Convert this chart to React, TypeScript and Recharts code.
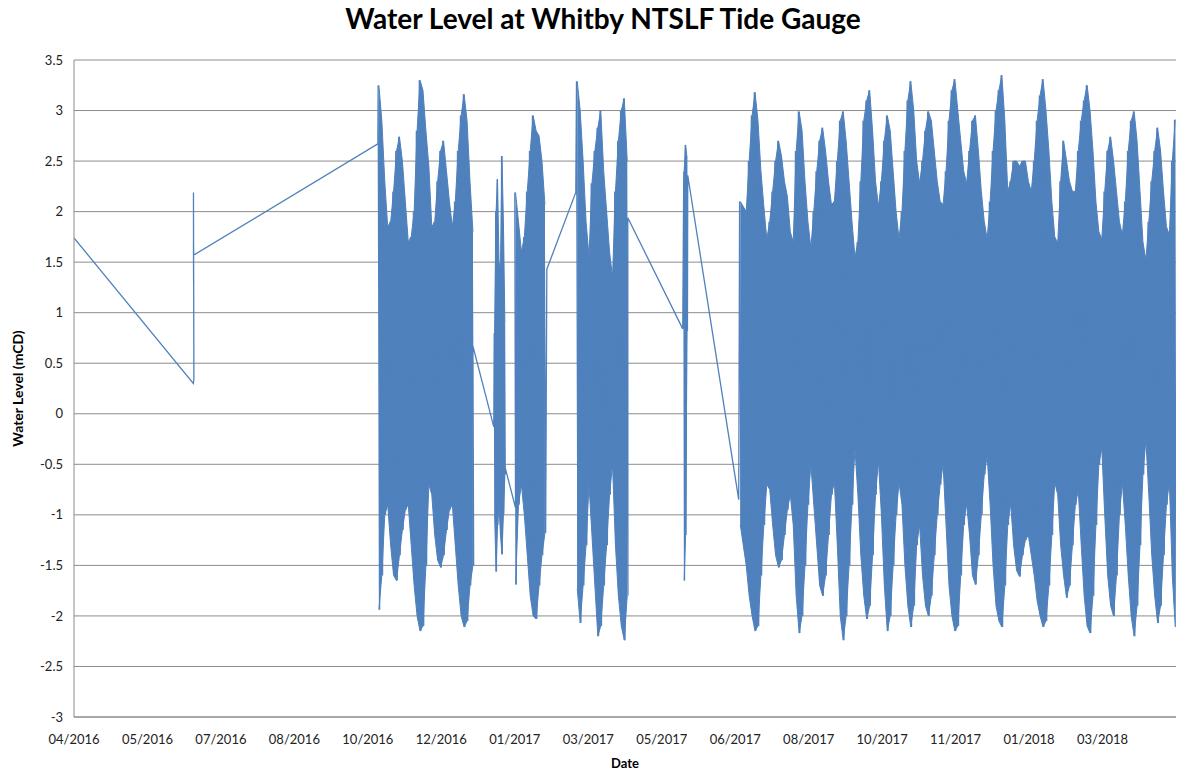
import React from "react";
import { ComposedChart, Line, Area, XAxis, YAxis, CartesianGrid, Label } from "recharts";

// x positions are days counted from the first reading (early April 2016)
const TICK_DAYS = [0, 50, 100, 150, 200, 250, 300, 350, 400, 450, 500, 550, 600, 650, 700];
const TICK_LABELS = [
  "04/2016", "05/2016", "07/2016", "08/2016", "10/2016", "12/2016", "01/2017", "03/2017",
  "05/2017", "06/2017", "08/2017", "10/2017", "11/2017", "01/2018", "03/2018",
];
const LEVEL_TICKS = [-3, -2.5, -2, -1.5, -1, -0.5, 0, 0.5, 1, 1.5, 2, 2.5, 3, 3.5];

// straight joins between the gaps in the record: [day, level]
const LEAD_IN: [number, number][] = [
  [0, 1.74], [81.2, 0.3], [81.6, 0.34], [81.3, 2.19], [81.4, 1.3], [81.3, 1.7], [81.5, 1.57], [206.8, 2.67],
];
const JOIN_A: [number, number][] = [[271.5, 0.67], [285.7, -0.13]];
const JOIN_B: [number, number][] = [[293.4, -0.53], [300.5, -0.93]];
const JOIN_C: [number, number][] = [[321.8, 1.43], [341.5, 2.19]];
const JOIN_D: [number, number][] = [[376.9, 1.94], [414.3, 0.84]];
const JOIN_E: [number, number][] = [[417.7, 2.36], [452.4, -0.85]];

// tidal envelopes: high water / low water per sample
const OCT16_START = 207;
const OCT16_HIGH = [
  3.25, 2.9, 2.3, 1.85, 1.9, 2.2, 2.6, 2.74, 2.5, 2.1,
  1.7, 1.75, 2.0, 2.8, 3.3, 3.2, 2.8, 2.45, 1.85, 1.9,
  2.3, 2.6, 2.7, 2.4, 2.1, 1.85, 2.1, 2.6, 2.95, 3.16,
  2.9, 2.3, 1.8,
];
const OCT16_LOW = [
  -1.94, -1.6, -1.0, -0.9, -1.3, -1.6, -1.65, -1.4, -1.15, -0.95,
  -0.9, -1.3, -1.7, -2.0, -2.15, -2.1, -1.5, -0.7, -0.8, -1.2,
  -1.45, -1.52, -1.4, -1.15, -0.95, -0.9, -1.3, -1.7, -2.0, -2.11,
  -2.05, -1.7, -1.5,
];

const JAN17A_START = 286;
const JAN17A_HIGH = [0.8, 2.0, 2.32, 1.5, 1.4, 2.55, 1.9, 0.9];
const JAN17A_LOW = [-1.0, -1.56, -1.1, -0.9, -1.2, -1.39, -1.0, -0.6];

const JAN17B_START = 300;
const JAN17B_HIGH = [2.19, 1.9, 1.6, 1.75, 2.2, 2.6, 2.95, 2.8, 2.75, 2.5, 2.07];
const JAN17B_LOW = [-1.69, -0.9, -0.7, -1.0, -1.4, -1.8, -2.0, -2.03, -1.7, -1.4, -1.18];

const MAR17_START = 342;
const MAR17_HIGH = [3.29, 3.0, 2.5, 1.9, 1.56, 2.28, 2.6, 2.83, 3.0, 2.4, 2.0, 1.6, 1.35, 2.2, 2.7, 3.0, 3.12, 2.5];
const MAR17_LOW = [-1.73, -2.07, -1.7, -1.3, -0.7, -1.2, -1.7, -2.2, -2.1, -1.7, -1.3, -0.8, -0.5, -1.3, -1.8, -2.1, -2.24, -1.8];

const MAY17_START = 415;
const MAY17_HIGH = [2.4, 2.66, 2.53];
const MAY17_LOW = [-1.65, -1.2, 0.82];

const JUN17_START = 453;
const JUN17_HIGH = [
  2.1, 2.05, 2.0, 2.5, 2.95, 3.18, 2.9, 2.4, 2.05, 1.73,
  1.9, 2.2, 2.5, 2.7, 2.55, 2.3, 2.15, 1.8, 1.7, 2.6,
  2.99, 2.8, 2.3, 1.9, 1.64, 2.0, 2.4, 2.7, 2.83, 2.6,
  2.3, 2.07, 2.1, 2.5, 2.9, 2.99, 2.7, 2.3, 1.9, 1.55,
  1.7, 2.3, 2.9, 3.1, 3.2, 2.8, 2.3, 2.05, 2.3, 2.7,
  2.95, 2.8, 2.4, 2.0, 1.73, 2.0, 2.6, 3.1, 3.29, 3.0,
  2.5, 2.28, 2.5, 2.8, 2.99, 2.9, 2.6, 2.3, 2.1, 2.07,
  2.4, 2.9, 3.2, 3.31, 3.0, 2.7, 2.4, 2.28, 2.6, 2.9,
  2.95, 2.6, 2.2, 1.9, 1.73, 2.1, 2.6, 3.0, 3.2, 3.35,
  2.9, 2.2, 2.3, 2.5, 2.5, 2.45, 2.5, 2.5, 2.3, 2.2,
  2.5, 2.9, 3.15, 3.31, 3.0, 2.6, 2.1, 1.75, 1.69, 2.3,
  2.7, 2.5, 2.3, 2.2, 2.2, 2.6, 2.9, 3.1, 3.25, 3.0,
  2.6, 2.1, 1.8, 1.73, 2.2, 2.6, 2.74, 2.5, 2.2, 1.9,
  1.77, 2.1, 2.6, 2.9, 2.99, 2.7, 2.2, 1.7, 1.52, 1.9,
  2.3, 2.6, 2.83, 2.6, 2.2, 1.85, 1.77, 2.5, 2.91,
];
const JUN17_LOW = [
  -1.1, -1.3, -1.5, -1.8, -2.0, -2.15, -2.1, -1.6, -1.1, -0.7,
  -0.75, -1.1, -1.4, -1.52, -1.45, -1.2, -0.95, -0.8, -1.1, -1.8,
  -2.17, -2.0, -1.5, -0.9, -0.5, -0.9, -1.3, -1.7, -1.8, -1.6,
  -1.2, -0.8, -0.68, -1.3, -2.0, -2.24, -2.0, -1.5, -0.9, -0.34,
  -0.8, -1.4, -1.8, -2.03, -1.9, -1.4, -0.8, -0.47, -1.0, -1.7,
  -2.15, -2.0, -1.5, -1.0, -0.68, -0.9, -1.5, -1.9, -2.11, -1.9,
  -1.3, -1.1, -1.6, -1.9, -2.0, -1.8, -1.4, -1.0, -0.7, -0.5,
  -1.1, -1.7, -2.0, -2.15, -2.1, -1.6, -1.1, -0.89, -1.2, -1.6,
  -1.69, -1.4, -1.0, -0.6, -0.42, -0.9, -1.5, -1.9, -2.05, -2.11,
  -1.7, -1.1, -0.89, -1.3, -1.55, -1.61, -1.4, -1.25, -1.2, -1.4,
  -1.6, -1.85, -2.0, -2.11, -2.05, -1.7, -1.2, -0.68, -0.8, -1.3,
  -1.6, -1.82, -1.7, -1.3, -0.9, -0.76, -1.3, -1.8, -2.1, -2.17,
  -1.8, -1.1, -0.5, -0.34, -1.0, -1.6, -1.9, -2.0, -1.6, -1.0,
  -0.68, -1.1, -1.6, -2.0, -2.2, -1.9, -1.3, -0.6, -0.26, -0.8,
  -1.4, -1.8, -2.07, -1.9, -1.4, -0.9, -0.68, -1.6, -2.11,
];

type Point = { day: number; level: number };
type Band = { day: number; band: [number, number] };
type Block = { start: number; step: number; high: number[]; low: number[] };

const BLOCKS: Block[] = [
  { start: OCT16_START, step: 2, high: OCT16_HIGH, low: OCT16_LOW },
  { start: JAN17A_START, step: 1, high: JAN17A_HIGH, low: JAN17A_LOW },
  { start: JAN17B_START, step: 2, high: JAN17B_HIGH, low: JAN17B_LOW },
  { start: MAR17_START, step: 2, high: MAR17_HIGH, low: MAR17_LOW },
  { start: MAY17_START, step: 1, high: MAY17_HIGH, low: MAY17_LOW },
  { start: JUN17_START, step: 2, high: JUN17_HIGH, low: JUN17_LOW },
];
const JOINS = [LEAD_IN, JOIN_A, JOIN_B, JOIN_C, JOIN_D, JOIN_E];

const fromPairs = (pairs: [number, number][]): Point[] =>
  pairs.map(([day, level]) => ({ day, level }));

// alternate high and low water so the trace swings like the gauge record
function tidePoints(b: Block): Point[] {
  const out: Point[] = [];
  b.high.forEach((h, i) => {
    out.push({ day: b.start + i * b.step, level: h });
    out.push({ day: b.start + i * b.step + b.step / 2, level: b.low[i] });
  });
  return out;
}

// the filled body between the low- and high-water envelopes
function bandPoints(b: Block): Band[] {
  return b.high.map((h, i) => ({ day: b.start + i * b.step + b.step / 4, band: [b.low[i], h] }));
}

const traceData: Point[] = JOINS.flatMap((join, i) => [...fromPairs(join), ...tidePoints(BLOCKS[i])]);

const FONT = "Lato, 'Liberation Sans', sans-serif";
const GRID = "#8c8c8c";
const BLUE = "#4f81bd";

export default function App() {
  return (
    <div style={{ position: "absolute", left: 0, top: 0, width: 1189, height: 772, background: "#fff", fontFamily: FONT }}>
      <div
        style={{
          position: "absolute",
          left: 0,
          top: 1,
          width: 1206,
          textAlign: "center",
          fontSize: 28,
          fontWeight: 700,
          color: "#000",
        }}
      >
        Water Level at Whitby NTSLF Tide Gauge
      </div>
      <ComposedChart width={1189} height={772} margin={{ top: 60, right: 13, bottom: 0, left: 0 }}>
        <CartesianGrid vertical={false} stroke={GRID} strokeWidth={1} />
        <XAxis
          type="number"
          dataKey="day"
          domain={[0, 750]}
          allowDataOverflow
          ticks={TICK_DAYS}
          interval={0}
          tickFormatter={(v: number) => TICK_LABELS[TICK_DAYS.indexOf(v)] ?? ""}
          tick={{ fontSize: 13, fill: "#222", fontFamily: FONT }}
          tickLine={false}
          tickMargin={12}
          axisLine={{ stroke: GRID }}
          height={55}
        >
          <Label
            value="Date"
            position="insideBottom"
            offset={4}
            style={{ fontSize: 13, fontWeight: 700, fill: "#000", fontFamily: FONT }}
          />
        </XAxis>
        <YAxis
          type="number"
          domain={[-3, 3.5]}
          ticks={LEVEL_TICKS}
          interval={0}
          width={74}
          tick={{ fontSize: 13, fill: "#222", fontFamily: FONT }}
          tickLine={false}
          tickMargin={5}
          axisLine={{ stroke: GRID }}
        >
          <Label
            value="Water Level (mCD)"
            angle={-90}
            position="insideLeft"
            offset={18}
            style={{ fontSize: 14, fontWeight: 700, fill: "#000", fontFamily: FONT, textAnchor: "middle" }}
          />
        </YAxis>
        {BLOCKS.map((b, i) => (
          <Area
            key={i}
            data={bandPoints(b)}
            type="linear"
            dataKey="band"
            stroke={BLUE}
            strokeWidth={1}
            fill={BLUE}
            fillOpacity={1}
            dot={false}
            activeDot={false}
            isAnimationActive={false}
          />
        ))}
        <Line
          data={traceData}
          type="linear"
          dataKey="level"
          stroke={BLUE}
          strokeWidth={1.3}
          dot={false}
          activeDot={false}
          isAnimationActive={false}
        />
      </ComposedChart>
    </div>
  );
}
